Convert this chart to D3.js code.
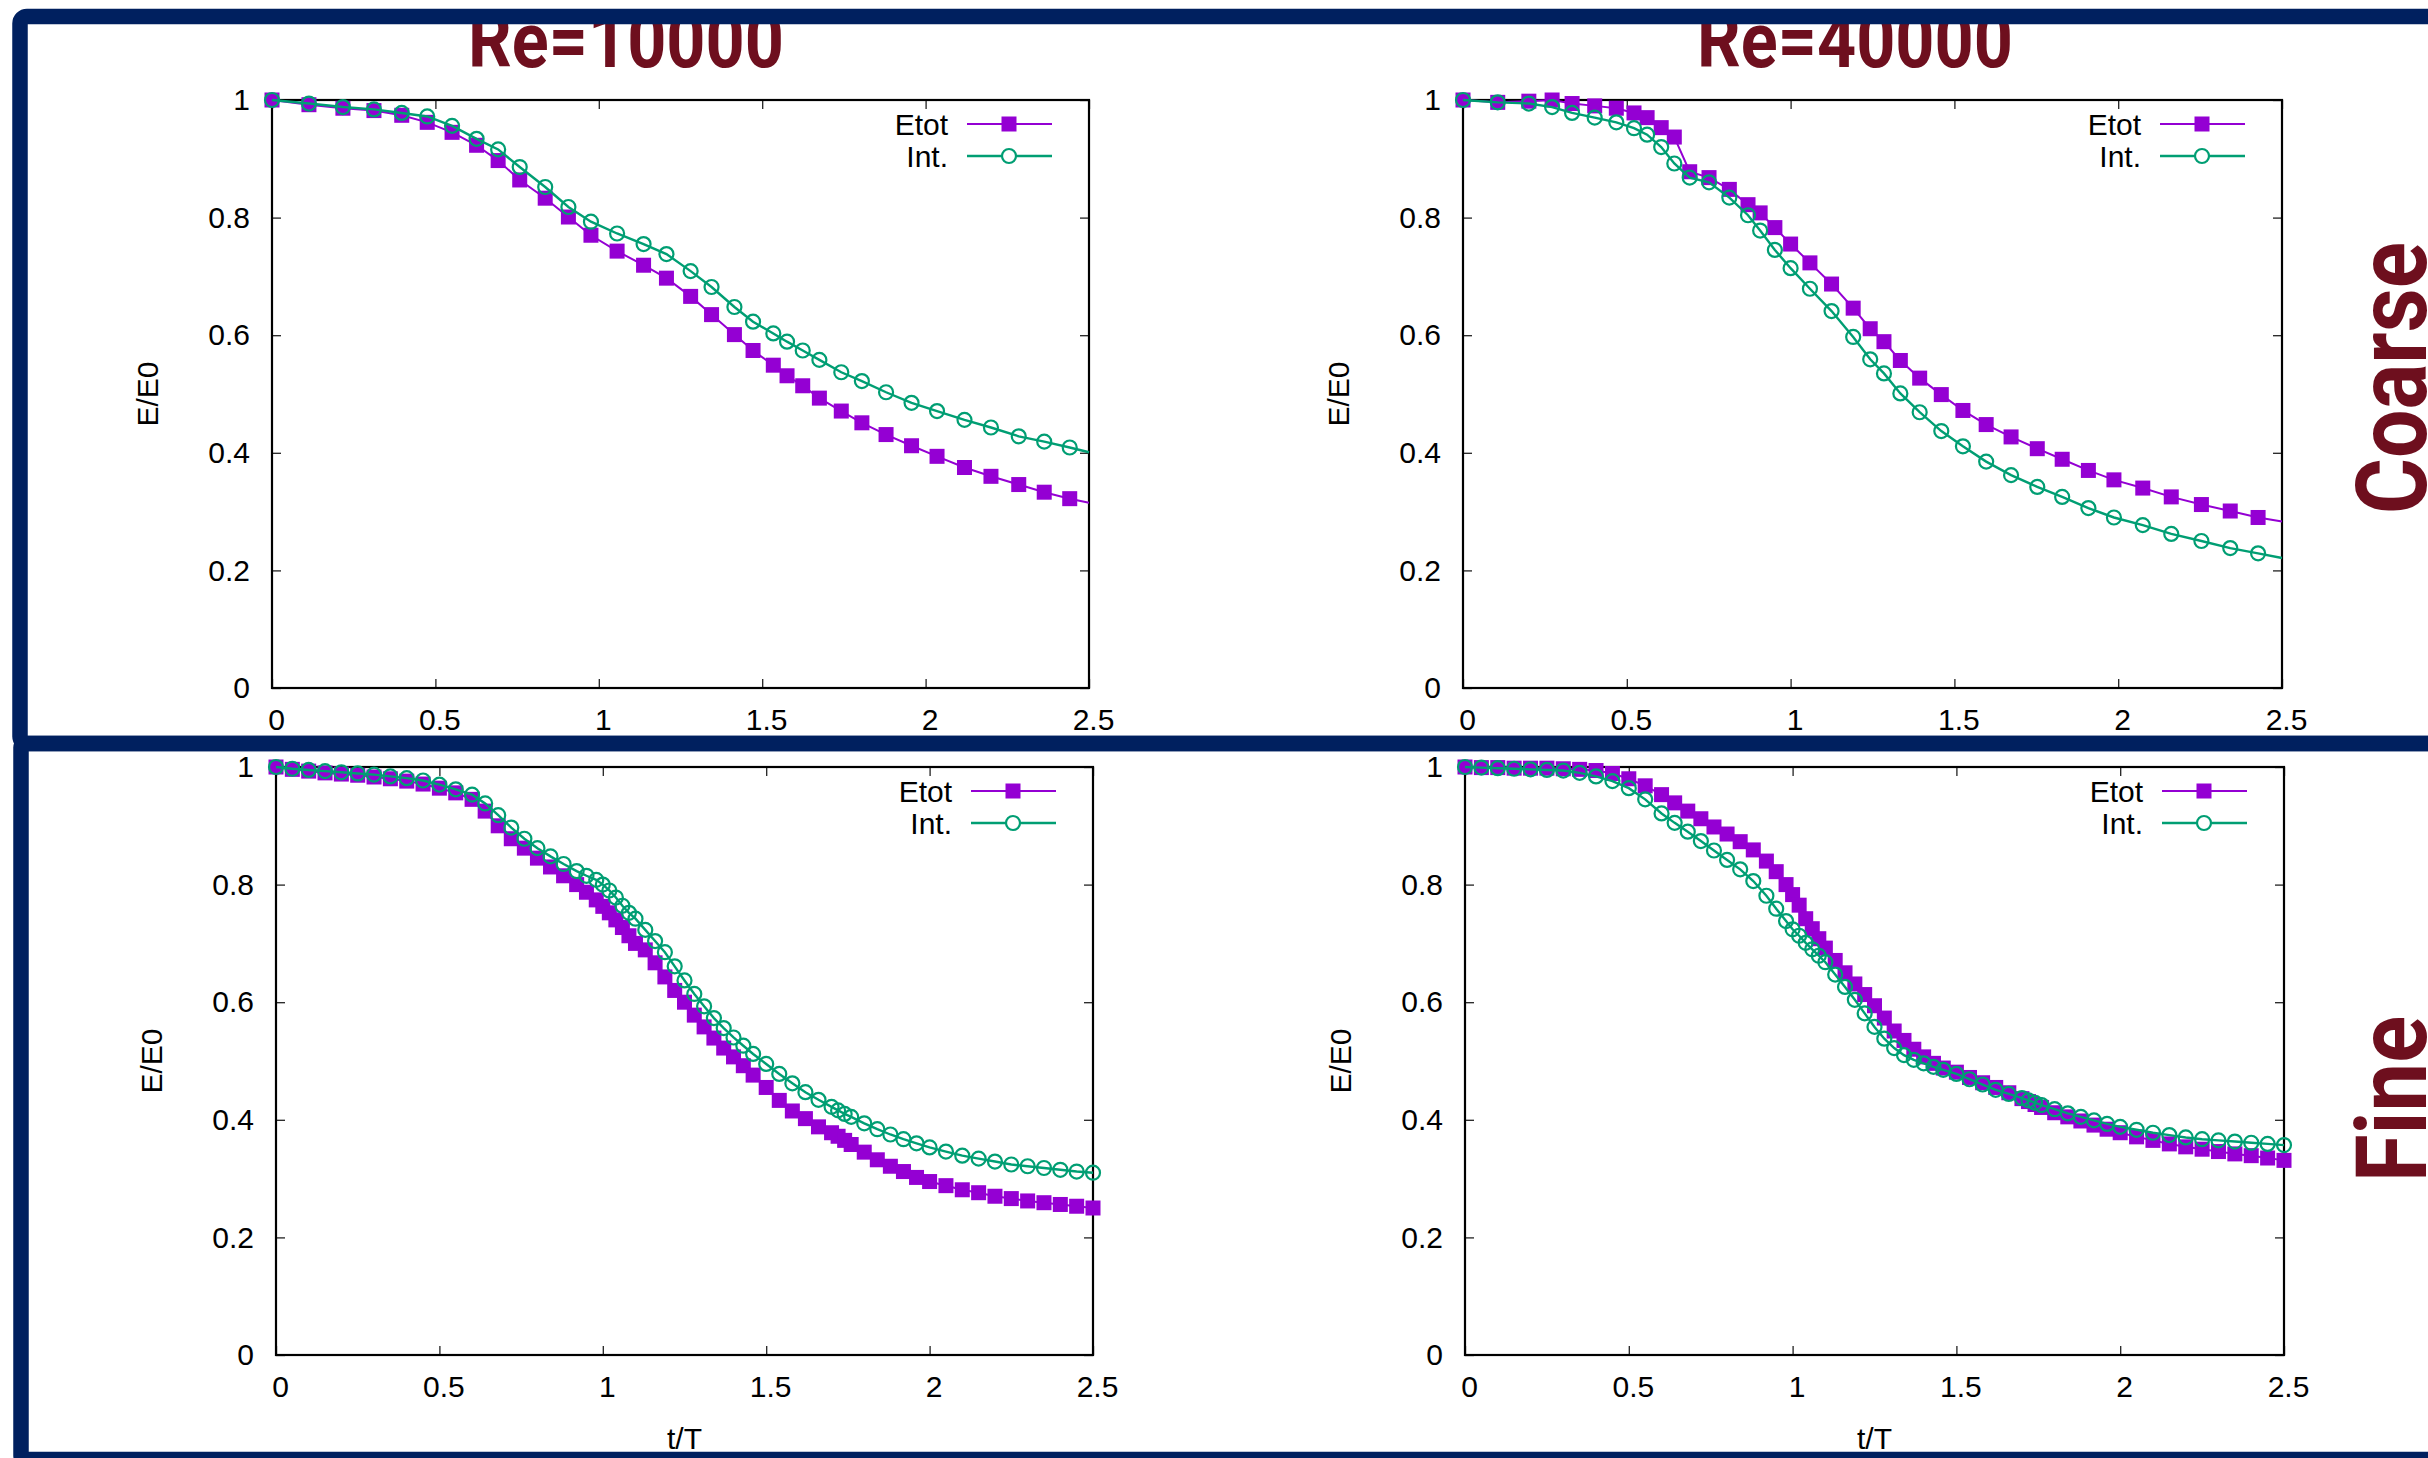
<!DOCTYPE html>
<html>
<head>
<meta charset="utf-8">
<script src="https://cdn.jsdelivr.net/npm/d3@7"></script>
<style>
  html, body { margin: 0; padding: 0; background: #ffffff; }
  svg { display: block; }
</style>
</head>
<body>
<script>
// ---- labels -------------------------------------------------------------
const columnTitles = ["Re=10000", "Re=40000"];
const rowLabels = ["Coarse", "Fine"];
const seriesNames = ["Etot", "Int."];
const xTicks = [0, 0.5, 1, 1.5, 2, 2.5];
const xTickLabels = ["0", "0.5", "1", "1.5", "2", "2.5"];
const yTicks = [0, 0.2, 0.4, 0.6, 0.8, 1];
const yTickLabels = ["0", "0.2", "0.4", "0.6", "0.8", "1"];
const xTitle = "t/T";
const yTitle = "E/E0";

// ---- coarse grid, Re=10000 (last entry ends the line, no marker) -------
const coarse10kTime = [0, 0.113, 0.217, 0.312, 0.397, 0.475, 0.551, 0.626, 0.692, 0.758,
  0.836, 0.907, 0.976, 1.056, 1.137, 1.207, 1.281, 1.345, 1.415, 1.472, 1.534, 1.576,
  1.624, 1.675, 1.742, 1.805, 1.879, 1.957, 2.035, 2.119, 2.200, 2.285, 2.363, 2.441, 2.5];
const coarse10kEtot = [1.000, 0.992, 0.986, 0.982, 0.974, 0.962, 0.945, 0.923, 0.897, 0.864,
  0.833, 0.801, 0.770, 0.743, 0.719, 0.697, 0.666, 0.635, 0.601, 0.574, 0.549, 0.531,
  0.514, 0.493, 0.471, 0.451, 0.431, 0.412, 0.394, 0.375, 0.360, 0.346, 0.333, 0.322, 0.315];
const coarse10kInt = [1.000, 0.994, 0.988, 0.984, 0.978, 0.972, 0.956, 0.934, 0.916, 0.886,
  0.852, 0.818, 0.793, 0.773, 0.755, 0.738, 0.709, 0.682, 0.648, 0.623, 0.603, 0.589,
  0.574, 0.558, 0.537, 0.522, 0.503, 0.485, 0.471, 0.456, 0.443, 0.428, 0.419, 0.409, 0.401];

// ---- coarse grid, Re=40000 ----------------------------------------------
const coarse40kTime = [0, 0.106, 0.201, 0.272, 0.333, 0.402, 0.468, 0.522, 0.562, 0.605,
  0.645, 0.692, 0.751, 0.813, 0.870, 0.907, 0.952, 1.000, 1.059, 1.125, 1.191, 1.243,
  1.285, 1.335, 1.394, 1.460, 1.526, 1.597, 1.673, 1.753, 1.829, 1.909, 1.987, 2.075,
  2.162, 2.254, 2.342, 2.427, 2.5];
const coarse40kEtot = [1.000, 0.996, 0.998, 1.000, 0.994, 0.990, 0.986, 0.978, 0.970, 0.953,
  0.937, 0.878, 0.868, 0.848, 0.822, 0.808, 0.783, 0.755, 0.723, 0.687, 0.646, 0.611,
  0.589, 0.557, 0.527, 0.499, 0.472, 0.448, 0.427, 0.407, 0.389, 0.370, 0.354, 0.340,
  0.325, 0.312, 0.301, 0.290, 0.283];
const coarse40kInt = [1.000, 0.996, 0.994, 0.988, 0.978, 0.970, 0.962, 0.952, 0.941, 0.920,
  0.892, 0.868, 0.860, 0.834, 0.804, 0.778, 0.745, 0.714, 0.679, 0.641, 0.597, 0.559,
  0.535, 0.501, 0.469, 0.437, 0.411, 0.385, 0.362, 0.342, 0.325, 0.306, 0.290, 0.277,
  0.262, 0.250, 0.238, 0.229, 0.221];

// ---- fine grid (shared time samples) ------------------------------------
const fineTime = [0, 0.05, 0.1, 0.15, 0.2, 0.25, 0.3, 0.35, 0.4, 0.45, 0.5, 0.55, 0.6,
  0.64, 0.68, 0.72, 0.76, 0.8, 0.84, 0.88, 0.92, 0.95, 0.98, 1.0, 1.02, 1.04, 1.06, 1.08,
  1.1, 1.13, 1.16, 1.19, 1.22, 1.25, 1.28, 1.31, 1.34, 1.37, 1.4, 1.43, 1.46, 1.5, 1.54,
  1.58, 1.62, 1.66, 1.7, 1.72, 1.74, 1.76, 1.8, 1.84, 1.88, 1.92, 1.96, 2.0, 2.05, 2.1,
  2.15, 2.2, 2.25, 2.3, 2.35, 2.4, 2.45, 2.5];
const fine10kEtot = [1.000, 0.996, 0.993, 0.990, 0.988, 0.986, 0.983, 0.980, 0.976, 0.971,
  0.964, 0.956, 0.945, 0.925, 0.900, 0.878, 0.862, 0.845, 0.830, 0.815, 0.800, 0.787,
  0.774, 0.763, 0.752, 0.740, 0.727, 0.713, 0.700, 0.689, 0.667, 0.643, 0.620, 0.600,
  0.578, 0.558, 0.539, 0.522, 0.507, 0.492, 0.476, 0.455, 0.433, 0.415, 0.402, 0.388,
  0.378, 0.372, 0.365, 0.358, 0.345, 0.332, 0.321, 0.312, 0.302, 0.295, 0.288, 0.281,
  0.276, 0.270, 0.266, 0.262, 0.259, 0.256, 0.253, 0.250];
const fine10kInt = [1.000, 0.997, 0.995, 0.993, 0.991, 0.989, 0.987, 0.984, 0.981, 0.977,
  0.970, 0.962, 0.953, 0.938, 0.918, 0.897, 0.878, 0.862, 0.848, 0.835, 0.823, 0.815,
  0.808, 0.800, 0.790, 0.778, 0.764, 0.752, 0.742, 0.723, 0.704, 0.685, 0.661, 0.637,
  0.614, 0.593, 0.573, 0.556, 0.540, 0.526, 0.512, 0.495, 0.478, 0.462, 0.447, 0.434,
  0.422, 0.416, 0.410, 0.405, 0.394, 0.384, 0.375, 0.367, 0.360, 0.353, 0.346, 0.339,
  0.334, 0.329, 0.324, 0.321, 0.318, 0.315, 0.312, 0.310];
const fine40kEtot = [1.000, 0.999, 0.999, 0.998, 0.998, 0.998, 0.997, 0.996, 0.994, 0.989,
  0.980, 0.968, 0.953, 0.939, 0.925, 0.912, 0.898, 0.886, 0.873, 0.859, 0.840, 0.822,
  0.800, 0.783, 0.765, 0.742, 0.725, 0.708, 0.692, 0.671, 0.650, 0.631, 0.613, 0.594,
  0.573, 0.551, 0.535, 0.520, 0.507, 0.496, 0.488, 0.481, 0.472, 0.463, 0.455, 0.446,
  0.436, 0.431, 0.426, 0.421, 0.412, 0.405, 0.398, 0.391, 0.384, 0.378, 0.371, 0.365,
  0.359, 0.354, 0.350, 0.346, 0.342, 0.339, 0.335, 0.331];
const fine40kInt = [1.000, 0.999, 0.998, 0.997, 0.996, 0.995, 0.994, 0.990, 0.984, 0.976,
  0.964, 0.945, 0.921, 0.905, 0.890, 0.874, 0.858, 0.842, 0.826, 0.806, 0.781, 0.759,
  0.738, 0.724, 0.713, 0.701, 0.690, 0.679, 0.668, 0.647, 0.626, 0.604, 0.581, 0.558,
  0.538, 0.522, 0.510, 0.502, 0.496, 0.490, 0.485, 0.478, 0.469, 0.460, 0.451, 0.444,
  0.437, 0.433, 0.429, 0.425, 0.418, 0.411, 0.405, 0.399, 0.393, 0.388, 0.383, 0.378,
  0.374, 0.370, 0.367, 0.365, 0.363, 0.361, 0.359, 0.357];

// ---- look ---------------------------------------------------------------
const W = 2428, H = 1458;
const NAVY = "#00205f";
const MAROON = "#6e0f1e";
const PURPLE = "#9400d3";
const GREEN = "#009e73";
const FONT = "'Liberation Sans', Arial, Helvetica, sans-serif";
const BOLD_FONT = "Roboto, 'DejaVu Sans', sans-serif";
const SQ = 15;     // square marker side
const CR = 7;      // circle marker radius

const panels = [
  { row: 0, col: 0, time: coarse10kTime, etot: coarse10kEtot, intg: coarse10kInt, markLast: false,
    box: { x0: 272, x1: 1089, y0: 100, y1: 688 } },
  { row: 0, col: 1, time: coarse40kTime, etot: coarse40kEtot, intg: coarse40kInt, markLast: false,
    box: { x0: 1463, x1: 2282, y0: 100, y1: 688 } },
  { row: 1, col: 0, time: fineTime, etot: fine10kEtot, intg: fine10kInt, markLast: true,
    box: { x0: 276, x1: 1093, y0: 767, y1: 1355 } },
  { row: 1, col: 1, time: fineTime, etot: fine40kEtot, intg: fine40kInt, markLast: true,
    box: { x0: 1465, x1: 2284, y0: 767, y1: 1355 } }
];

const svg = d3.select("body").append("svg")
  .attr("width", W).attr("height", H)
  .attr("viewBox", `0 0 ${W} ${H}`);

svg.append("rect").attr("width", W).attr("height", H).attr("fill", "#ffffff");

// column headings (partly tucked under the frame bar)
const titleX = [626, 1855];
columnTitles.forEach((t, i) => {
  svg.append("text")
    .attr("x", titleX[i]).attr("y", 67)
    .attr("text-anchor", "middle")
    .attr("font-family", BOLD_FONT).attr("font-weight", 700)
    .attr("font-size", 78)
    .attr("textLength", 316).attr("lengthAdjust", "spacingAndGlyphs")
    .attr("fill", MAROON)
    .text(t);
});

// row headings, vertical on the right edge
const rowLabelY = [378, 1099];
const rowLabelLen = [272, 166];
rowLabels.forEach((t, i) => {
  svg.append("text")
    .attr("transform", `translate(2426,${rowLabelY[i]}) rotate(-90)`)
    .attr("text-anchor", "middle")
    .attr("font-family", BOLD_FONT).attr("font-weight", 700)
    .attr("font-size", 98)
    .attr("textLength", rowLabelLen[i]).attr("lengthAdjust", "spacingAndGlyphs")
    .attr("fill", MAROON)
    .text(t);
});

// navy frames around the two rows
svg.append("rect")
  .attr("x", 20).attr("y", 16.5).attr("width", 2600).attr("height", 727)
  .attr("rx", 7)
  .attr("fill", "none").attr("stroke", NAVY).attr("stroke-width", 15.5);
svg.append("rect")
  .attr("x", 21).attr("y", 743.5).attr("width", 2600).attr("height", 716)
  .attr("rx", 4)
  .attr("fill", "none").attr("stroke", NAVY).attr("stroke-width", 15.5);

function drawPanel(p) {
  const { x0, x1, y0, y1 } = p.box;
  const x = d3.scaleLinear().domain([0, 2.5]).range([x0, x1]);
  const y = d3.scaleLinear().domain([0, 1]).range([y1, y0]);
  const g = svg.append("g");

  // inward ticks on all four sides
  const tickStyle = sel => {
    sel.select(".domain").remove();
    sel.selectAll(".tick line").attr("stroke", "#222").attr("stroke-width", 1.3);
  };
  g.append("g").attr("transform", `translate(0,${y1})`)
    .call(d3.axisBottom(x).tickValues(xTicks).tickSize(-9).tickPadding(21)
      .tickFormat((d, i) => xTickLabels[i]))
    .call(tickStyle)
    .call(s => s.selectAll("text").attr("dx", 4));
  g.append("g").attr("transform", `translate(0,${y0})`)
    .call(d3.axisTop(x).tickValues(xTicks).tickSize(-9).tickFormat(""))
    .call(tickStyle);
  g.append("g").attr("transform", `translate(${x0},0)`)
    .call(d3.axisLeft(y).tickValues(yTicks).tickSize(-9).tickPadding(22)
      .tickFormat((d, i) => yTickLabels[i]))
    .call(tickStyle);
  g.append("g").attr("transform", `translate(${x1},0)`)
    .call(d3.axisRight(y).tickValues(yTicks).tickSize(-9).tickFormat(""))
    .call(tickStyle);
  g.selectAll(".tick text")
    .attr("font-family", FONT).attr("font-size", 30).attr("fill", "#000");

  // plot border
  g.append("rect")
    .attr("x", x0).attr("y", y0).attr("width", x1 - x0).attr("height", y1 - y0)
    .attr("fill", "none").attr("stroke", "#000").attr("stroke-width", 2.2);

  // axis titles
  g.append("text")
    .attr("transform", `translate(${x0 - 114},${(y0 + y1) / 2}) rotate(-90)`)
    .attr("text-anchor", "middle")
    .attr("font-family", FONT).attr("font-size", 30).attr("fill", "#000")
    .text(yTitle);
  if (p.row === 1) {
    g.append("text")
      .attr("x", (x0 + x1) / 2).attr("y", y1 + 94)
      .attr("text-anchor", "middle")
      .attr("font-family", FONT).attr("font-size", 30).attr("fill", "#000")
      .text(xTitle);
  }

  const line = d3.line().x(d => x(d[0])).y(d => y(d[1]));
  const etotPts = p.time.map((t, i) => [t, p.etot[i]]);
  const intPts = p.time.map((t, i) => [t, p.intg[i]]);
  const marks = pts => p.markLast ? pts : pts.slice(0, -1);

  // Etot: line with filled squares
  g.append("path").datum(etotPts).attr("d", line)
    .attr("fill", "none").attr("stroke", PURPLE).attr("stroke-width", 2);
  g.append("g").selectAll("rect").data(marks(etotPts)).join("rect")
    .attr("x", d => x(d[0]) - SQ / 2).attr("y", d => y(d[1]) - SQ / 2)
    .attr("width", SQ).attr("height", SQ).attr("fill", PURPLE);

  // Int.: line with open circles
  g.append("path").datum(intPts).attr("d", line)
    .attr("fill", "none").attr("stroke", GREEN).attr("stroke-width", 2.4);
  g.append("g").selectAll("circle").data(marks(intPts)).join("circle")
    .attr("cx", d => x(d[0])).attr("cy", d => y(d[1])).attr("r", CR)
    .attr("fill", "none").attr("stroke", GREEN).attr("stroke-width", 2.2);

  // key
  const keyRows = [
    { name: seriesNames[0], color: PURPLE, dy: 24, shape: "square", w: 2 },
    { name: seriesNames[1], color: GREEN, dy: 56, shape: "circle", w: 2.4 }
  ];
  keyRows.forEach(k => {
    const ky = y0 + k.dy;
    g.append("text")
      .attr("x", x1 - 141).attr("y", ky + 10.7)
      .attr("text-anchor", "end")
      .attr("font-family", FONT).attr("font-size", 30).attr("fill", "#000")
      .text(k.name);
    g.append("line")
      .attr("x1", x1 - 122).attr("x2", x1 - 37).attr("y1", ky).attr("y2", ky)
      .attr("stroke", k.color).attr("stroke-width", k.w);
    if (k.shape === "square") {
      g.append("rect").attr("x", x1 - 80 - SQ / 2).attr("y", ky - SQ / 2)
        .attr("width", SQ).attr("height", SQ).attr("fill", k.color);
    } else {
      g.append("circle").attr("cx", x1 - 80).attr("cy", ky).attr("r", CR)
        .attr("fill", "#fff").attr("stroke", k.color).attr("stroke-width", 2.2);
    }
  });
}

panels.forEach(drawPanel);
</script>
</body>
</html>
